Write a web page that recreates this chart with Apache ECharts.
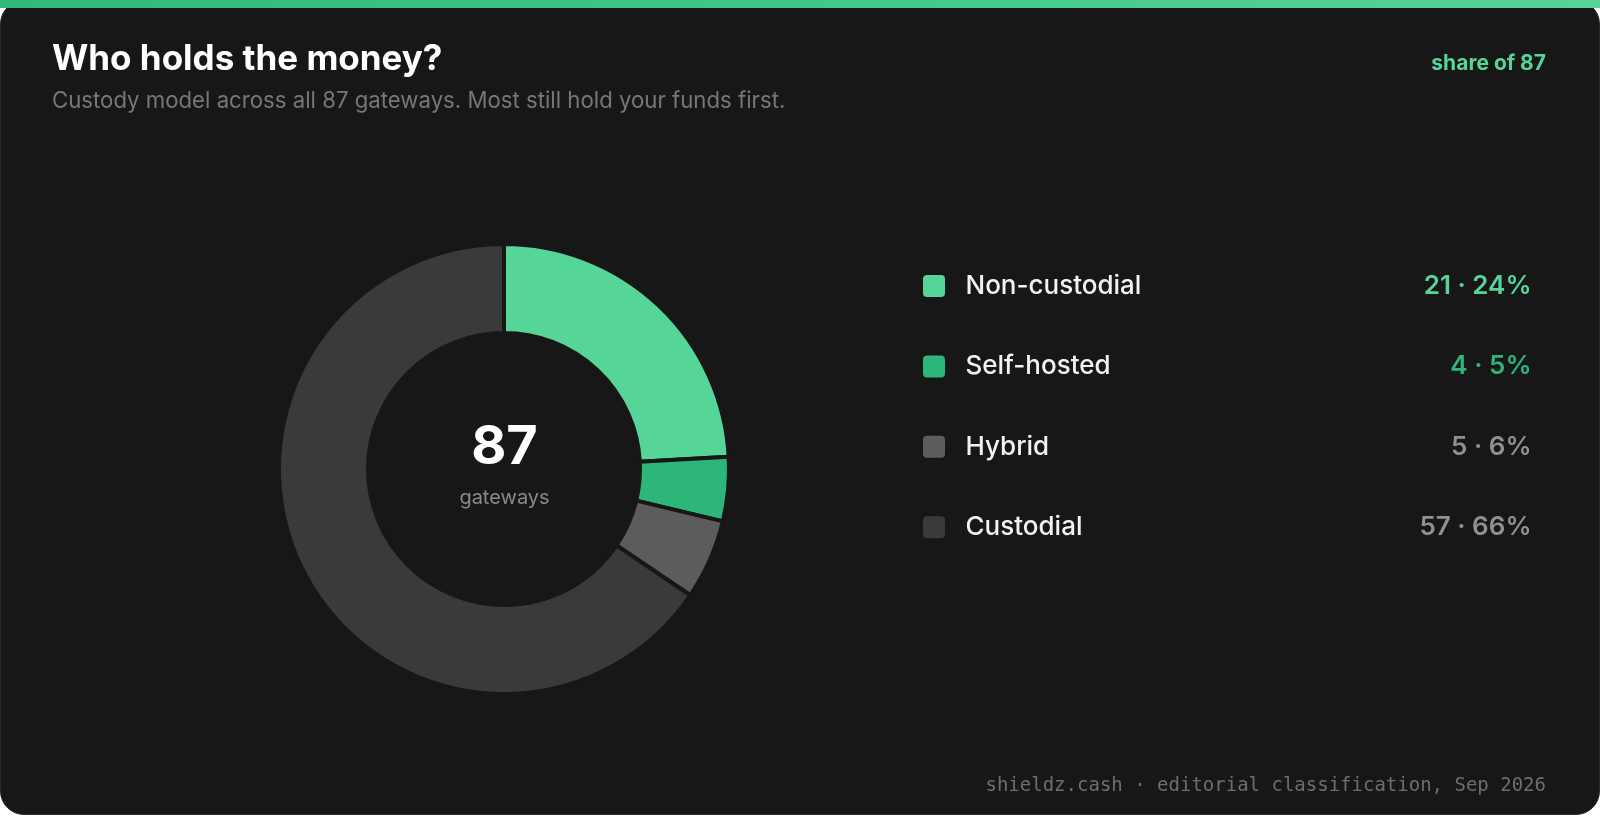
<!DOCTYPE html>
<html>
<head>
<meta charset="utf-8">
<title>Who holds the money?</title>
<script src="https://cdn.jsdelivr.net/npm/echarts@6/dist/echarts.min.js"></script>
<style>
  html, body { margin: 0; padding: 0; background: #ffffff; }
  body { width: 1600px; height: 817px; position: relative; overflow: hidden; font-family: Inter, "Noto Sans", sans-serif; }
  .card {
    position: absolute; left: 0; top: 0; width: 1598px; height: 813px;
    background: #171717; border: 1px solid #2a2a2a; border-radius: 24px;
  }
  .bar {
    position: absolute; left: 0; top: 0; width: 1600px; height: 8px;
    background: linear-gradient(90deg, #2fb97a 0%, #55d598 100%);
  }
  #chart { position: absolute; left: 0; top: 0; width: 1600px; height: 817px; }
</style>
</head>
<body>
<div class="card"></div>
<div class="bar"></div>
<div id="chart"></div>
<script>
// custody model counts, out of all gateways
var categories = ['Non-custodial', 'Self-hosted', 'Hybrid', 'Custodial'];
var counts = [21, 4, 5, 57];
var sliceColors = ['#55d598', '#2db57a', '#5c5c5c', '#3a3a3a'];
var valueColors = ['#55d598', '#2db57a', '#909090', '#909090'];

var total = counts.reduce(function (a, b) { return a + b; }, 0);

var showData = categories.map(function (name, i) {
    return { name: name, value: counts[i], itemStyle: { color: sliceColors[i] } };
});

var rich = {
    n: { color: '#f2f2f2', fontSize: 26, fontWeight: 500, fontFamily: 'Inter', width: 377, padding: [0, 0, 0, 14], lineHeight: 24 }
};
valueColors.forEach(function (c, i) {
    rich['v' + i] = { color: c, fontSize: 26, fontWeight: 600, fontFamily: 'Inter', width: 189, align: 'right', lineHeight: 24 };
});

// rounded square swatch
var swatch = 'path://M5,0H19A5,5 0 0 1 24,5V19A5,5 0 0 1 19,24H5A5,5 0 0 1 0,19V5A5,5 0 0 1 5,0Z';

var option = {
    animation: false,
    title: [
        {
            text: 'Who holds the money?',
            subtext: 'Custody model across all ' + total + ' gateways. Most still hold your funds first.',
            left: 47, top: 37,
            itemGap: 13,
            textStyle: { color: '#ffffff', fontSize: 35, fontWeight: 700, fontFamily: 'Inter' },
            subtextStyle: { color: '#777777', fontSize: 22.2, fontFamily: 'Inter' }
        },
        {
            text: 'share of ' + total,
            right: 49, top: 48,
            textStyle: { color: '#55d598', fontSize: 21, fontWeight: 700, fontFamily: 'Inter' }
        },
        {
            text: 'shieldz.cash · editorial classification, Sep 2026',
            right: 49, top: 771.5,
            textStyle: { color: '#6e6e6e', fontSize: 19, fontWeight: 400, fontFamily: 'DejaVu Sans Mono' }
        },
        {
            text: String(total),
            subtext: 'gateways',
            left: 499.5, top: 416, textAlign: 'center',
            itemGap: 13,
            textStyle: { color: '#ffffff', fontSize: 54, fontWeight: 700, fontFamily: 'Inter' },
            subtextStyle: { color: '#8a8a8a', fontSize: 20, fontFamily: 'Inter' }
        }
    ],
    legend: {
        orient: 'vertical',
        left: 916, top: 268,
        itemWidth: 25, itemHeight: 24,
        itemGap: 54.4,
        icon: swatch,
        selectedMode: false,
        data: categories,
        formatter: function (name) {
            var i = categories.indexOf(name);
            var pct = Math.round(counts[i] / total * 100);
            return '{n|' + name + '}{v' + i + '|' + counts[i] + ' · ' + pct + '%}';
        },
        textStyle: { rich: rich }
    },
    series: [
        {
            name: 'Custody',
            type: 'pie',
            center: [504, 469],
            radius: [136, 225],
            startAngle: 90,
            clockwise: true,
            silent: true,
            label: { show: false },
            labelLine: { show: false },
            itemStyle: { borderColor: '#171717', borderWidth: 4 },
            data: showData
        }
    ]
};

var myChart = echarts.init(document.getElementById('chart'));
myChart.setOption(option);
</script>
</body>
</html>
